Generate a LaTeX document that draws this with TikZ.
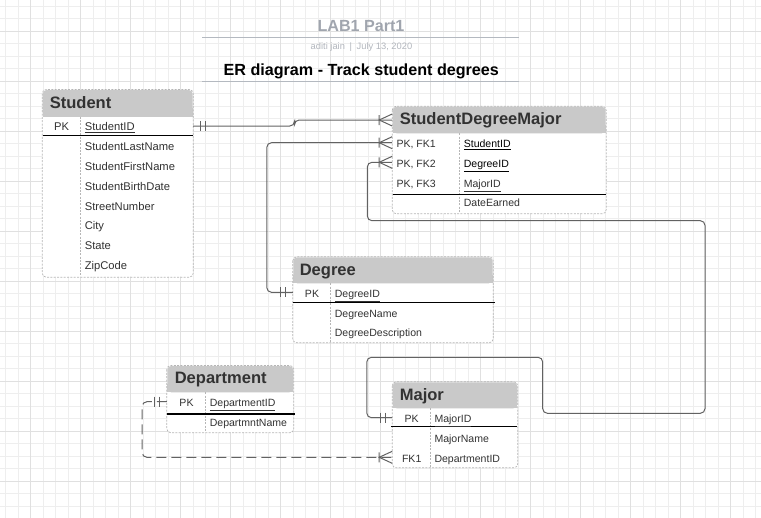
\documentclass[tikz,border=0pt]{standalone}
\usepackage{fontspec}
\setmainfont{Liberation Sans}
\usetikzlibrary{fit}

\definecolor{gridminor}{RGB}{238,238,238}
\definecolor{gridmajor}{RGB}{224,224,224}
\definecolor{headfill}{RGB}{201,201,201}
\definecolor{tblborder}{RGB}{182,182,182}
\definecolor{linkgray}{RGB}{98,98,98}
\definecolor{txtdark}{RGB}{50,50,50}
\definecolor{titlegray}{RGB}{160,165,174}
\definecolor{bylinegray}{RGB}{178,182,189}
\definecolor{rulegray}{RGB}{180,185,192}

\tikzset{every picture/.style={line width=0.75pt}}

% one-and-only-one end: two bars, #2 = 1 to the right, -1 to the left
\newcommand{\onebar}[2]{\draw[linkgray] (#1) ++({#2*7},-5) -- ++(0,10) (#1) ++({#2*12},-5) -- ++(0,10);}
% one-or-many end, foot touching the table on its left side
\newcommand{\manyfoot}[1]{\draw[linkgray] (#1) ++(-13,-5) -- ++(0,10) (#1) ++(0,-6) -- ++(-13,6) -- ++(13,6);}

\begin{document}
\begin{tikzpicture}[x=0.75pt,y=0.75pt,yscale=-1,xscale=1,
  tbl/.style={inner sep=0pt, fill=white, rounded corners=3pt},
  border/.style={draw=tblborder, line width=0.5pt, dash pattern=on 1.5pt off 1pt, rounded corners=3pt},
  keyline/.style={draw=black, line width=0.9pt},
  hdtxt/.style={anchor=west, inner sep=0pt, text height=0.716em, text depth=0pt, text=txtdark, font=\bfseries\fontsize{12.4}{14}\selectfont},
  fld/.style={anchor=west, inner sep=0pt, text height=0.716em, text depth=0pt, text=txtdark, font=\fontsize{7.9}{9}\selectfont},
  stufld/.style={fld, font=\fontsize{8.4}{10}\selectfont},
  keytxt/.style={fld, anchor=center},
  link/.style={draw=linkgray, line width=0.75pt, rounded corners=3.5pt},
  deplink/.style={link, dash pattern=on 7.5pt off 3.75pt}]
\useasboundingbox (0,0) rectangle (761,518);

%Grid background
\begin{scope}
\clip (0,0) rectangle (761,518);
\draw[gridminor, step=12.5, shift={(5.7,6.3)}] (-12.5,-12.5) grid (770,530);
\draw[gridmajor, step=50, shift={(30.7,31.3)}] (-50,-50) grid (750,500);
\end{scope}

% Text Node
\draw (361,26.7) node[text=titlegray, text height=0.716em, text depth=0pt, font=\bfseries\fontsize{12.1}{14}\selectfont] (labTitle) {LAB1 Part1};
%Straight Lines
\draw[rulegray] (202.3,37.7) -- (519,37.7);
% Text Node
\draw (361.5,47.3) node[text=bylinegray, font=\fontsize{7}{8}\selectfont] (byline) {aditi jain\hspace{0.5em}|\hspace{0.5em}July 13, 2020};
% Text Node
\draw (361.3,71) node[text height=0.716em, text depth=0pt, font=\bfseries\fontsize{12.1}{14}\selectfont] (erTitle) {ER diagram - Track student degrees};
%Straight Lines
\draw[rulegray] (202.3,81.7) -- (519,81.7);

%Shape: Table [Student]
\node[tbl, fit={(42.7,90) (192.7,276.7)}] (student) {};
\fill[headfill, rounded corners=3pt] (42.7,90) rectangle (192.7,116.7);
\fill[headfill] (42.7,108) rectangle (192.7,116.7);
\draw[border] (student.north west) rectangle (student.south east);
\draw[border] (80.7,116.7) -- (80.7,276.7);
\draw[keyline] (42.7,135.7) -- (192.7,135.7);

%Shape: Table [StudentDegreeMajor]
\node[tbl, fit={(392.7,106.7) (605.7,213.3)}] (sdm) {};
\fill[headfill, rounded corners=3pt] (392.7,106.7) rectangle (605.7,133.3);
\fill[headfill] (392.7,125) rectangle (605.7,133.3);
\draw[border] (sdm.north west) rectangle (sdm.south east);
\draw[border] (459.3,133.3) -- (459.3,213.3);
\draw[keyline] (392.7,194.7) -- (605.7,194.7);

%Shape: Table [Degree]
\node[tbl, fit={(293.3,257.3) (492.7,342.3)}] (degree) {};
\fill[headfill, rounded corners=3pt] (293.3,257.3) rectangle (492.7,283.3);
\fill[headfill] (293.3,275) rectangle (492.7,283.3);
\draw[border] (degree.north west) rectangle (degree.south east);
\draw[border] (330.7,283.3) -- (330.7,342.3);
\draw[keyline] (293.3,302.7) -- (494.5,302.7);

%Shape: Table [Department]
\node[tbl, fit={(167.3,366) (293.3,432.3)}] (dept) {};
\fill[headfill, rounded corners=3pt] (167.3,366) rectangle (293.3,392.3);
\fill[headfill] (167.3,384) rectangle (293.3,392.3);
\draw[border] (dept.north west) rectangle (dept.south east);
\draw[border] (205.7,392.3) -- (205.7,432.3);
\draw[keyline] (167.3,414) -- (294.5,414);

%Shape: Table [Major]
\node[tbl, fit={(392.7,382.3) (517.3,467.3)}] (major) {};
\fill[headfill, rounded corners=3pt] (392.7,382.3) rectangle (517.3,408.3);
\fill[headfill] (392.7,400) rectangle (517.3,408.3);
\draw[border] (major.north west) rectangle (major.south east);
\draw[border] (430.7,408.3) -- (430.7,467.3);
\draw[keyline] (391,426.3) -- (517.3,426.3);

% Text Node
\draw (49.3,103.3) node[hdtxt] (stuTitle) {Student};
% Text Node
\draw (61.7,126) node[keytxt, font=\fontsize{8.4}{10}\selectfont] (stuPK) {PK};
% Text Node
\draw (84.3,126) node[stufld] (stuID) {\underline{StudentID}};
\foreach \fname [count=\i] in {StudentLastName,StudentFirstName,StudentBirthDate,StreetNumber,City,State,ZipCode}
  \draw (84.3,{125.9+19.84*\i}) node[stufld] (stuF\i) {\fname};

% Text Node
\draw (399.3,120) node[hdtxt] (sdmTitle) {StudentDegreeMajor};
% Text Node
\draw (396,142.7) node[fld] (sdmK1) {PK, FK1};
% Text Node
\draw (396,162.3) node[fld] (sdmK2) {PK, FK2};
% Text Node
\draw (396,182.3) node[fld] (sdmK3) {PK, FK3};
% Text Node
\draw (463.3,142.7) node[fld, text=black] (sdmStu) {\underline{StudentID}};
% Text Node
\draw (463.3,162.3) node[fld, text=black] (sdmDeg) {\underline{DegreeID}};
% Text Node
\draw (463.3,182.3) node[fld] (sdmMaj) {\underline{MajorID}};
% Text Node
\draw (463.3,201.7) node[fld] (sdmDate) {DateEarned};

% Text Node
\draw (299.3,270.3) node[hdtxt] (degTitle) {Degree};
% Text Node
\draw (312,292.3) node[keytxt] (degPK) {PK};
% Text Node
\draw (334.3,292.3) node[fld] (degID) {\underline{DegreeID}};
% Text Node
\draw (334.3,312.3) node[fld] (degName) {DegreeName};
% Text Node
\draw (334.3,331.7) node[fld] (degDesc) {DegreeDescription};

% Text Node
\draw (174.3,379.2) node[hdtxt] (depTitle) {Department};
% Text Node
\draw (186.5,401.7) node[keytxt] (depPK) {PK};
% Text Node
\draw (209.3,401.7) node[fld] (depID) {\underline{DepartmentID}};
% Text Node
\draw (209.3,421.7) node[fld] (depName) {DepartmntName};

% Text Node
\draw (399.3,395.3) node[hdtxt] (majTitle) {Major};
% Text Node
\draw (411.7,417.7) node[keytxt] (majPK) {PK};
% Text Node
\draw (434,417.7) node[fld] (majID) {\underline{MajorID}};
% Text Node
\draw (434,437.3) node[fld] (majName) {MajorName};
% Text Node
\draw (411.7,457.3) node[keytxt] (majFK) {FK1};
% Text Node
\draw (434,457.3) node[fld] (majDep) {DepartmentID};

%Connector Student -- StudentDegreeMajor
\draw[link] (student.east |- stuID) -- ++(101.3,0) |- (sdm.west |- sdmTitle);
\onebar{student.east |- stuID}{1}
\manyfoot{sdm.west |- sdmTitle}
%Connector Degree -- StudentDegreeMajor
\draw[link] (degree.west |- degPK) -- ++(-26,0) |- (sdm.west |- sdmK1);
\onebar{degree.west |- degPK}{-1}
\manyfoot{sdm.west |- sdmK1}
%Connector Major -- StudentDegreeMajor
\draw[link] (major.west |- majPK) -- ++(-25.4,0) |- (542.7,357.3) |- (705,413.3) |- (367.3,220.7) |- (sdm.west |- sdmK2);
\onebar{major.west |- majPK}{-1}
\manyfoot{sdm.west |- sdmK2}
%Connector Department -- Major
\draw[deplink] (dept.west |- depPK) -- ++(-24.6,0) |- (major.west |- majFK);
\onebar{dept.west |- depPK}{-1}
\manyfoot{major.west |- majFK}

\end{tikzpicture}
\end{document}
